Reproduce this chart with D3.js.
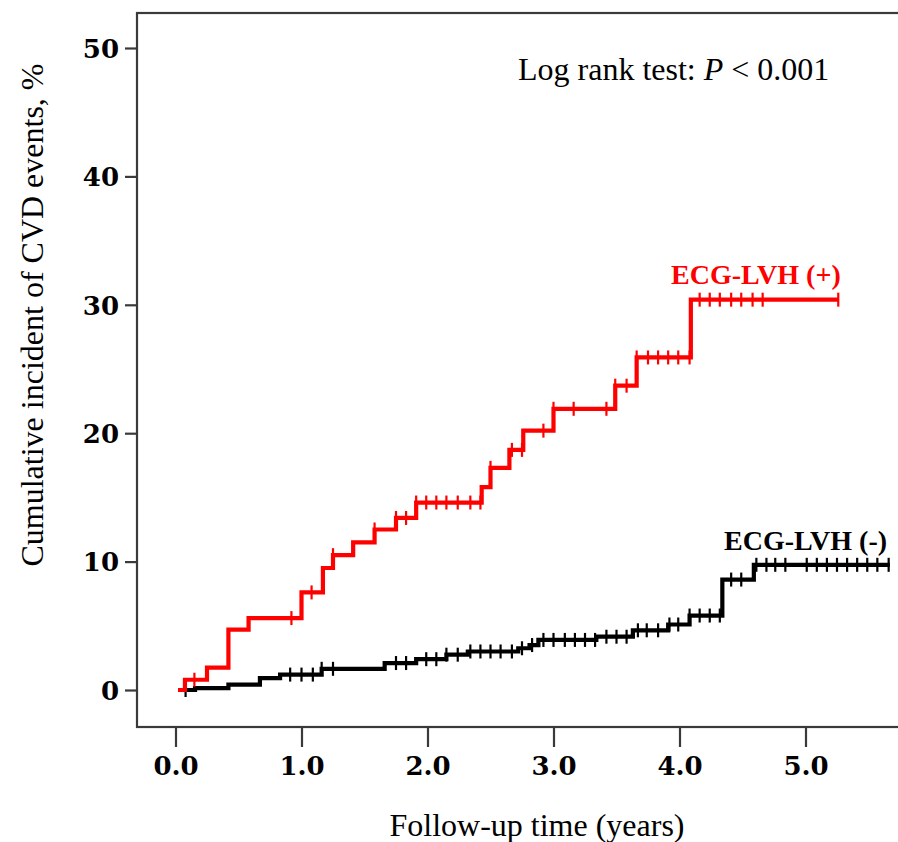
<!DOCTYPE html>
<html><head><meta charset="utf-8">
<script src="https://cdn.jsdelivr.net/npm/d3@7/dist/d3.min.js"></script>
<style>body{margin:0;background:#fff}svg{display:block}</style>
</head><body>
<svg id="chart" width="898" height="842"></svg>
<script>
// ---- data (years, cumulative %) ----
const redTimes  = [0.02,0.075,0.25,0.42,0.58,1.0,1.17,1.25,1.41,1.58,1.75,1.91,2.43,2.5,2.65,2.76,3.0,3.49,3.66,4.09];
const redValues = [0,0.8,1.75,4.7,5.6,7.6,9.5,10.5,11.5,12.5,13.4,14.6,15.8,17.3,18.7,20.2,21.9,23.7,25.9,30.4];
const redEnd = 5.26;
const redCensor = [0.15,0.92,1.08,1.25,1.58,1.75,1.83,1.91,1.99,2.07,2.15,2.24,2.34,2.42,2.5,2.67,2.75,2.92,3.0,3.16,3.42,3.49,3.58,3.66,3.75,3.83,3.91,3.99,4.08,4.16,4.24,4.32,4.41,4.49,4.58,4.66,5.26];

const blackTimes  = [0.02,0.155,0.42,0.67,0.83,1.16,1.66,1.91,2.15,2.32,2.72,2.81,2.88,3.34,3.63,3.91,4.08,4.34,4.59];
const blackValues = [0,0.15,0.42,0.92,1.2,1.65,2.1,2.4,2.75,3.0,3.25,3.5,3.9,4.15,4.65,5.1,5.8,8.6,9.75];
const blackEnd = 5.67;
const blackCensor = [0.08,0.91,1.0,1.09,1.16,1.25,1.75,1.83,1.99,2.07,2.15,2.24,2.34,2.42,2.5,2.58,2.67,2.75,2.83,2.92,3.0,3.09,3.17,3.25,3.33,3.42,3.5,3.58,3.67,3.74,3.83,3.92,3.99,4.08,4.16,4.24,4.32,4.41,4.49,4.61,4.69,4.76,4.84,5.01,5.09,5.17,5.25,5.33,5.41,5.49,5.57,5.66];

const xTicks = [0,1,2,3,4,5];
const yTicks = [0,10,20,30,40,50];
const seriesLabels = ["ECG-LVH (+)","ECG-LVH (-)"];

// ---- layout ----
const svg = d3.select("#chart");
const x = d3.scaleLinear().domain([0,5]).range([175.5,805.5]);
const y = d3.scaleLinear().domain([0,50]).range([690,48]);
const frame = {left:137, top:13, bottom:727, right:902};
const axisColor = "#3a3a3a";
const serif = "'Liberation Serif','Times New Roman',Times,serif";

// frame
svg.append("rect").attr("x",frame.left).attr("y",frame.top)
  .attr("width",frame.right-frame.left).attr("height",frame.bottom-frame.top)
  .attr("fill","none").attr("stroke",axisColor).attr("stroke-width",2.2);

// y axis
const gy = svg.append("g").attr("transform",`translate(${frame.left},0)`)
  .call(d3.axisLeft(y).tickValues(yTicks).tickSize(12).tickPadding(6).tickFormat(d3.format("d")));
gy.select(".domain").remove();
gy.selectAll("line").attr("stroke",axisColor).attr("stroke-width",2.2);
gy.selectAll("text").attr("font-family","'DejaVu Serif',serif").attr("font-weight","bold")
  .attr("font-size",26).attr("fill","#000").attr("dy","0.36em");

// x axis
const gx = svg.append("g").attr("transform",`translate(0,${frame.bottom})`)
  .call(d3.axisBottom(x).tickValues(xTicks).tickSize(20).tickPadding(10).tickFormat(d3.format(".1f")));
gx.select(".domain").remove();
gx.selectAll("line").attr("stroke",axisColor).attr("stroke-width",2.2);
gx.selectAll("text").attr("font-family","'DejaVu Serif',serif").attr("font-weight","bold")
  .attr("font-size",26).attr("fill","#000");

// curves
function stepPts(times, values, end){
  const pts = times.map((t,i)=>[t,values[i]]);
  pts.push([end, values[values.length-1]]);
  return pts;
}
function valAt(times, values, t){
  let v = values[0];
  for(let i=0;i<times.length;i++){ if(times[i] <= t + 1e-9) v = values[i]; }
  return v;
}
const line = d3.line().x(d=>x(d[0])).y(d=>y(d[1])).curve(d3.curveStepAfter);

function drawSeries(times, values, end, censor, color){
  const g = svg.append("g");
  g.append("path").datum(stepPts(times,values,end)).attr("d",line)
    .attr("fill","none").attr("stroke",color).attr("stroke-width",4.2).attr("stroke-linejoin","miter");
  g.selectAll("line.c").data(censor).enter().append("line").attr("class","c")
    .attr("x1",d=>x(d)).attr("x2",d=>x(d))
    .attr("y1",d=>y(valAt(times,values,d))-7).attr("y2",d=>y(valAt(times,values,d))+7)
    .attr("stroke",color).attr("stroke-width",2.2);
}
drawSeries(blackTimes, blackValues, blackEnd, blackCensor, "#000");
drawSeries(redTimes, redValues, redEnd, redCensor, "#ff0000");

// labels
svg.append("text").attr("x",671).attr("y",284).text(seriesLabels[0])
  .attr("font-family",serif).attr("font-weight","bold")
  .attr("font-size",28).attr("fill","#ff0000");
svg.append("text").attr("x",724).attr("y",550).text(seriesLabels[1])
  .attr("font-family",serif).attr("font-weight","bold")
  .attr("font-size",28).attr("fill","#000");

const lr = svg.append("text").attr("x",518).attr("y",80)
  .attr("font-family",serif).attr("font-size",32).attr("fill","#000");
lr.append("tspan").text("Log rank test: ");
lr.append("tspan").attr("font-style","italic").text("P");
lr.append("tspan").text(" < 0.001");

svg.append("text").attr("x",537).attr("y",836).attr("text-anchor","middle")
  .attr("font-family",serif).attr("font-size",32).attr("fill","#000")
  .text("Follow-up time (years)");
svg.append("text").attr("transform","translate(43,315) rotate(-90)").attr("text-anchor","middle")
  .attr("font-family",serif).attr("font-size",32).attr("fill","#000")
  .text("Cumulative incident of CVD events, %");
</script>
</body></html>
